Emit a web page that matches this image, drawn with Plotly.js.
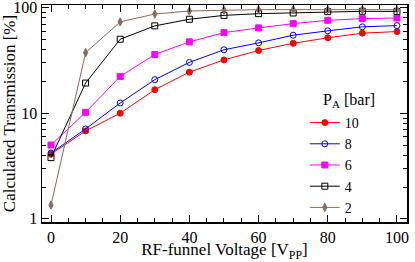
<!DOCTYPE html>
<html>
<head>
<meta charset="utf-8">
<script src="https://cdn.plot.ly/plotly-3.0.1.min.js"></script>
<style>
  body { margin: 0; padding: 0; background: white; }
  #chart { width: 415px; height: 262px; }
</style>
</head>
<body>
<div id="chart"></div>
<script>
// RF-funnel voltage (Vpp)
var voltage = [0, 10, 20, 30, 40, 50, 60, 70, 80, 90, 100];

// calculated transmission in %, one array per pressure
var trans10 = [4.1, 6.8, 10.0, 16.7, 24.5, 32.0, 39.3, 46.0, 51.8, 57.3, 59.4];
var trans8  = [4.2, 7.1, 12.5, 20.8, 30.3, 39.9, 46.4, 54.8, 60.3, 65.8, 67.6];
var trans6  = [5.0, 10.2, 22.3, 36.0, 47.4, 58.0, 64.3, 70.6, 75.9, 78.7, 79.8];
var trans4  = [3.8, 19.3, 50.2, 67.2, 77.6, 84.5, 87.7, 89.0, 91.6, 92.3, 92.0];
var trans2  = [1.35, 37.4, 73.3, 87.0, 93.0, 95.0, 95.7, 95.7, 95.7, 95.7, 95.7];

var names = ["10", "8", "6", "4", "2"];
var series = [trans10, trans8, trans6, trans4, trans2];
var colors = ["#ff0000", "#0000ff", "#ff00ff", "#000000", "#8b6b5b"];
var symbols = ["circle", "circle-open", "square", "square-open", "diamond-tall"];

var serif = "Liberation Serif";

var data = [];
for (let i = 0; i < series.length; i++) {
    data.push({
        x: voltage,
        y: series[i],
        name: names[i],
        type: "scatter",
        mode: "lines+markers",
        line: {color: colors[i], width: 1},
        marker: {symbol: symbols[i], color: colors[i], size: 6,
                 line: {color: colors[i], width: 1}}
    });
}

var layout = {
    width: 415,
    height: 262,
    margin: {l: 42, r: 8, t: 5, b: 40},
    paper_bgcolor: "white",
    plot_bgcolor: "white",
    font: {family: serif, size: 16, color: "#000"},
    showlegend: true,
    legend: {
        x: 0.72, y: 0.53, xanchor: "left", yanchor: "top",
        bgcolor: "rgba(0,0,0,0)",
        font: {family: serif, size: 14, color: "#000"},
        itemwidth: 30,
        tracegroupgap: 0
    },
    annotations: [{
        text: "P<sub>A</sub> [bar]",
        xref: "paper", yref: "paper",
        x: 0.765, y: 0.56, xanchor: "left", yanchor: "middle",
        showarrow: false,
        font: {family: serif, size: 16, color: "#000"}
    }],
    xaxis: {
        range: [-2.6, 102.9],
        tick0: 0,
        dtick: 20,
        ticks: "inside",
        ticklen: 7,
        tickwidth: 1,
        tickcolor: "#000",
        minor: {dtick: 5, ticks: "inside", ticklen: 4, tickcolor: "#000"},
        showline: true,
        linecolor: "#000",
        linewidth: 1.5,
        mirror: "allticks",
        showgrid: false,
        zeroline: false,
        ticklabeloverflow: "allow",
        tickfont: {family: serif, size: 16},
        title: {text: "RF-funnel Voltage [V<sub>PP</sub>]", font: {family: serif, size: 17}, standoff: 2}
    },
    yaxis: {
        type: "log",
        range: [-0.03, 2.025],
        tickvals: [1, 10, 100],
        ticktext: ["1", "10", "100"],
        ticks: "inside",
        ticklen: 7,
        tickwidth: 1,
        tickcolor: "#000",
        minor: {tickvals: [2,3,4,5,6,7,8,9,20,30,40,50,60,70,80,90], ticks: "inside", ticklen: 4, tickcolor: "#000"},
        showline: true,
        linecolor: "#000",
        linewidth: 1.5,
        mirror: "allticks",
        showgrid: false,
        zeroline: false,
        ticklabeloverflow: "allow",
        tickfont: {family: serif, size: 16},
        title: {text: "Calculated Transmission [%]", font: {family: serif, size: 17}, standoff: 4}
    }
};

Plotly.newPlot("chart", data, layout, {staticPlot: true});
</script>
</body>
</html>
